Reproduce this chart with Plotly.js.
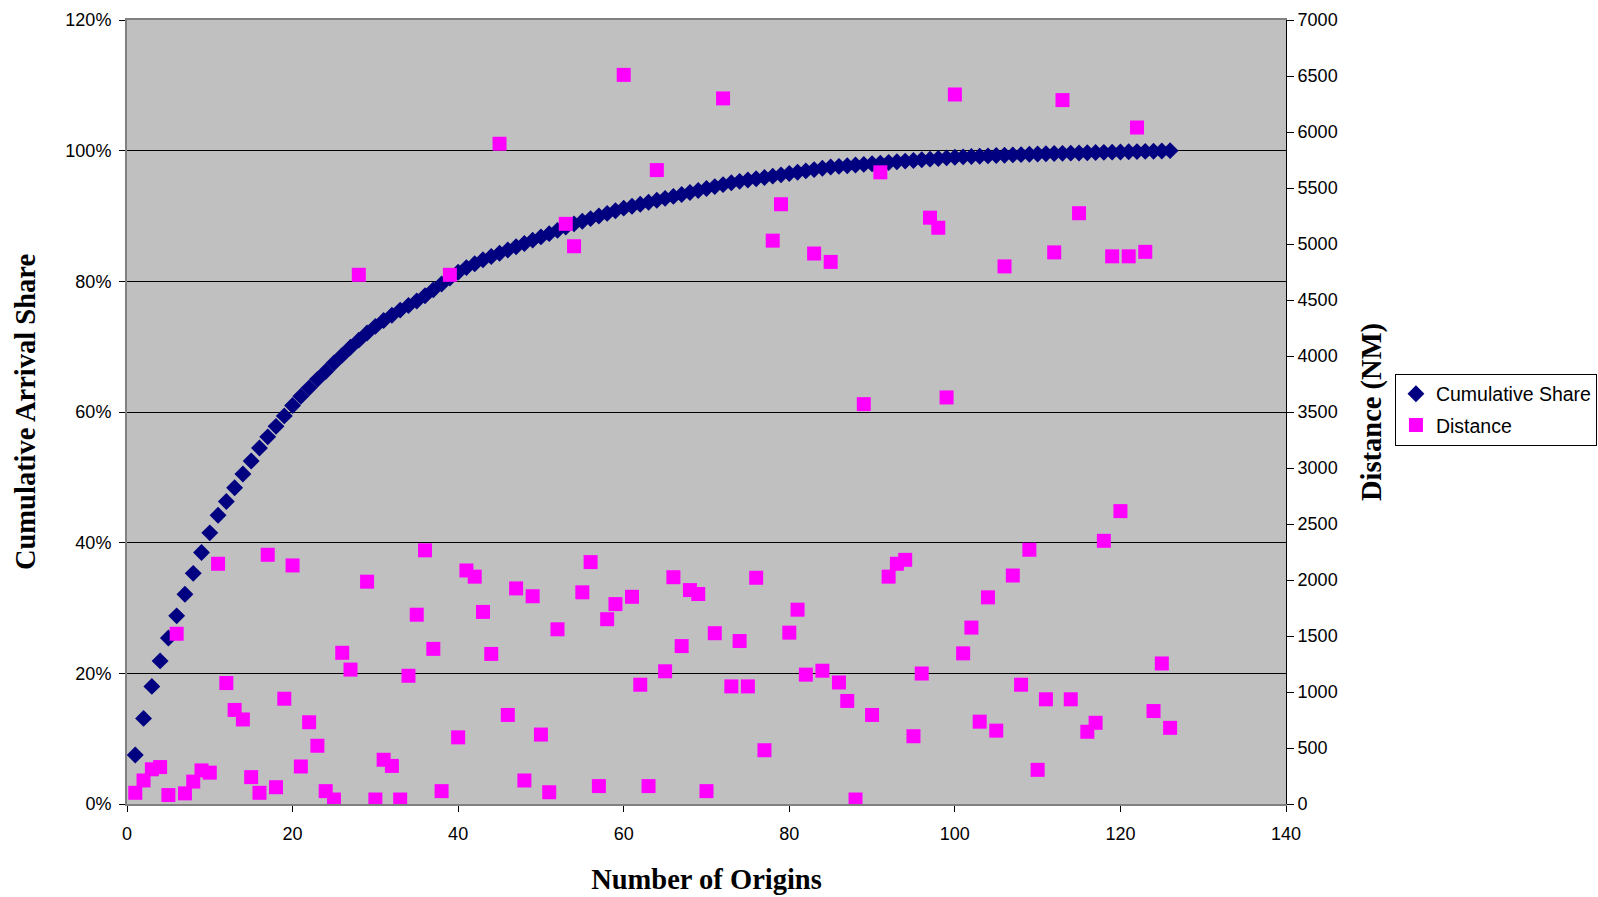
<!DOCTYPE html>
<html>
<head>
<meta charset="utf-8">
<script src="https://cdn.plot.ly/plotly-3.0.1.min.js"></script>
<style>
  html, body { margin: 0; padding: 0; background: #ffffff; }
  #chart { width: 1598px; height: 897px; }
</style>
</head>
<body>
<div id="chart"></div>
<script>
// Number of origins (x)
const origins = Array.from({length: 126}, (_, i) => i + 1);

// Cumulative arrival share (left axis, fraction)
const cumulativeShare = [
  0.075, 0.131, 0.180, 0.219, 0.254, 0.288, 0.321, 0.353, 0.385, 0.415,
  0.442, 0.463, 0.484, 0.505, 0.525, 0.545, 0.562, 0.578, 0.594, 0.610,
  0.624, 0.637, 0.650, 0.662, 0.675, 0.687, 0.699, 0.710, 0.721, 0.731,
  0.740, 0.748, 0.756, 0.763, 0.770, 0.778, 0.787, 0.796, 0.805, 0.814,
  0.821, 0.827, 0.833, 0.838, 0.843, 0.848, 0.853, 0.858, 0.863, 0.868,
  0.873, 0.878, 0.883, 0.888, 0.892, 0.896, 0.900, 0.904, 0.908, 0.912,
  0.915, 0.918, 0.921, 0.924, 0.927, 0.930, 0.933, 0.936, 0.939, 0.942,
  0.945, 0.948, 0.951, 0.953, 0.955, 0.957, 0.959, 0.961, 0.963, 0.965,
  0.967, 0.969, 0.971, 0.973, 0.975, 0.976, 0.977, 0.978, 0.979, 0.980,
  0.981, 0.982, 0.983, 0.984, 0.985, 0.986, 0.987, 0.988, 0.989, 0.990,
  0.9905, 0.991, 0.9915, 0.992, 0.9925, 0.993, 0.9935, 0.994, 0.9945, 0.995,
  0.9953, 0.9956, 0.9959, 0.9962, 0.9965, 0.9968, 0.9971, 0.9974, 0.9977, 0.998,
  0.9983, 0.9986, 0.9989, 0.9992, 0.9996, 1.000
];

// Distance in NM (right axis)
const distanceNM = [
  100, 210, 310, 330, 80, 1520, 95, 200, 300, 280,
  2145, 1080, 840, 755, 240, 100, 2225, 150, 940, 2130,
  335, 730, 520, 115, 40, 1350, 1200, 4725, 1985, 40,
  395, 340, 40, 1145, 1690, 2265, 1385, 115, 4725, 595,
  2085, 2030, 1715, 1340, 5895, 795, 1925, 210, 1855, 620,
  105, 1560, 5180, 4980, 1890, 2160, 160, 1650, 1785, 6510,
  1850, 1065, 160, 5660, 1185, 2025, 1410, 1910, 1875, 115,
  1525, 6300, 1050, 1455, 1050, 2020, 480, 5030, 5355, 1530,
  1735, 1155, 4915, 1190, 4840, 1085, 920, 40, 3570, 795,
  5640, 2030, 2145, 2180, 605, 1165, 5235, 5145, 3630, 6335,
  1345, 1575, 735, 1845, 655, 4800, 2040, 1065, 2270, 305,
  935, 4925, 6285, 935, 5275, 645, 725, 2350, 4890, 2615,
  4890, 6040, 4930, 830, 1255, 680
];

const seriesNames = ["Cumulative Share", "Distance"];
const xTitle = "Number of Origins";
const yTitle = "Cumulative Arrival Share";
const y2Title = "Distance (NM)";

const tickFont = {family: "Liberation Sans, Arial, sans-serif", size: 18, color: "#000000"};
const titleFont = {family: "Liberation Serif, Times New Roman, serif", size: 28.5, color: "#000000", weight: "bold"};

const traces = [
  {
    x: origins, y: cumulativeShare, name: seriesNames[0], legendgroup: "a",
    type: "scatter", mode: "markers", yaxis: "y",
    marker: {symbol: "diamond", size: 13, color: "#000080", line: {width: 0}}
  },
  {
    x: origins, y: distanceNM, name: seriesNames[1], legendgroup: "b",
    type: "scatter", mode: "markers", yaxis: "y2",
    marker: {symbol: "square", size: 14, color: "#FF00FF", line: {width: 0}}
  }
];

const layout = {
  width: 1598, height: 897,
  margin: {l: 127, r: 312, t: 20, b: 93, pad: 0, autoexpand: false},
  paper_bgcolor: "#ffffff",
  plot_bgcolor: "#C0C0C0",
  showlegend: true,
  legend: {
    x: 1.094, y: 0.549, xanchor: "left", yanchor: "top",
    font: {family: "Liberation Sans, Arial, sans-serif", size: 19.5, color: "#000000"},
    bgcolor: "#ffffff", bordercolor: "#000000", borderwidth: 1,
    tracegroupgap: 3, itemwidth: 30
  },
  xaxis: {
    range: [0, 140], tick0: 0, dtick: 20,
    showgrid: false, zeroline: false,
    showline: true, linecolor: "#808080", linewidth: 2, mirror: true,
    ticks: "outside", ticklen: 6, tickcolor: "#000000", tickwidth: 1,
    ticklabelstandoff: 6,
    tickfont: tickFont,
    title: {text: xTitle, font: titleFont, standoff: 26},
    automargin: false
  },
  yaxis: {
    range: [0, 1.2], tick0: 0, dtick: 0.2, tickformat: ".0%",
    showgrid: true, gridcolor: "#000000", gridwidth: 1,
    zeroline: false,
    showline: true, linecolor: "#808080", linewidth: 2,
    ticks: "outside", ticklen: 6, tickcolor: "#000000", tickwidth: 1,
    ticklabelstandoff: 4,
    tickfont: tickFont,
    title: {text: yTitle, font: titleFont, standoff: 21},
    automargin: false
  },
  yaxis2: {
    range: [0, 7000], tick0: 0, dtick: 500,
    overlaying: "y", side: "right",
    showgrid: false, zeroline: false,
    showline: true, linecolor: "#000000", linewidth: 1,
    ticks: "outside", ticklen: 7, tickcolor: "#000000", tickwidth: 1,
    tickfont: tickFont,
    title: {text: y2Title, font: titleFont, standoff: 24},
    automargin: false
  }
};

Plotly.newPlot("chart", traces, layout, {displayModeBar: false, staticPlot: true});
</script>
</body>
</html>
